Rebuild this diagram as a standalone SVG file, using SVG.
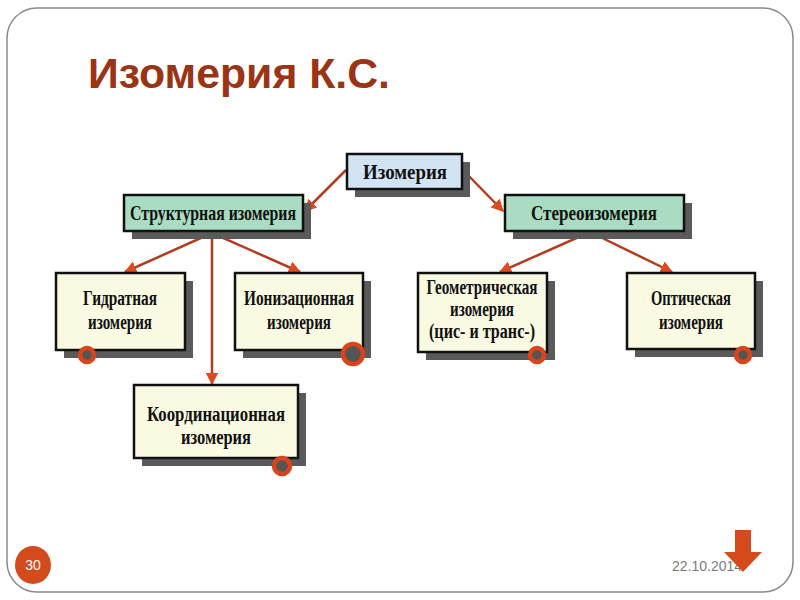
<svg xmlns="http://www.w3.org/2000/svg" width="800" height="600" viewBox="0 0 800 600">
<style>
.frame{fill:#fff;stroke:#8a8a8a;stroke-width:1.5}
.title{font-family:"Liberation Sans",Arial,sans-serif;font-weight:bold;font-size:43px;fill:#9a3414}
.shadow{fill:#5a5a5a}
.box{stroke:#111;stroke-width:2.5}
.blue{fill:#d2e3f4}
.green{fill:#a9dcc2}
.cream{fill:#fafae2}
.lbl{font-family:"Liberation Serif","Times New Roman",serif;font-weight:bold;font-size:20px;fill:#111;text-anchor:middle}
.ring{fill:#555;stroke:#d9441c;stroke-width:4.5}
.conn{stroke:#b23c20;stroke-width:2.5;fill:none}
.foot{font-family:"Liberation Sans",Arial,sans-serif;font-size:14px}
</style>
<defs>
<marker id="ah" viewBox="0 0 10 10" refX="9" refY="5" markerWidth="5" markerHeight="5" orient="auto">
<path d="M0,0 L10,5 L0,10 z" fill="#dc4a1e"/>
</marker>
</defs>
<rect class="frame" x="7" y="8" width="786" height="584" rx="30" ry="30"/>
<text class="title" x="88" y="88" textLength="302" lengthAdjust="spacingAndGlyphs">Изомерия К.С.</text>

<g id="connectors">
<line class="conn" x1="346" y1="170" x2="305" y2="211" marker-end="url(#ah)"/>
<line class="conn" x1="463" y1="170" x2="503" y2="211" marker-end="url(#ah)"/>
<line class="conn" x1="212" y1="233" x2="125" y2="272" marker-end="url(#ah)"/>
<line class="conn" x1="212" y1="233" x2="300" y2="272" marker-end="url(#ah)"/>
<line class="conn" x1="212" y1="233" x2="212" y2="384" marker-end="url(#ah)"/>
<line class="conn" x1="590" y1="232" x2="500" y2="272" marker-end="url(#ah)"/>
<line class="conn" x1="590" y1="232" x2="672" y2="272" marker-end="url(#ah)"/>
</g>

<g id="n-izomeriya">
<rect class="shadow" x="355" y="162" width="115" height="35"/>
<rect class="box blue" x="347" y="154" width="115" height="35"/>
<text class="lbl" x="405" y="179" font-size="23" textLength="84" lengthAdjust="spacingAndGlyphs">Изомерия</text>
</g>

<g id="n-struct">
<rect class="shadow" x="132" y="203" width="179" height="36"/>
<rect class="box green" x="124" y="195" width="179" height="36"/>
<text class="lbl" x="213" y="220" textLength="166" lengthAdjust="spacingAndGlyphs">Структурная изомерия</text>
</g>

<g id="n-stereo">
<rect class="shadow" x="513" y="203" width="179" height="36"/>
<rect class="box green" x="505" y="195" width="179" height="36"/>
<text class="lbl" x="594" y="220" textLength="126" lengthAdjust="spacingAndGlyphs">Стереоизомерия</text>
</g>

<g id="n-gidrat">
<rect class="shadow" x="64" y="281" width="129" height="77"/>
<rect class="box cream" x="56" y="273" width="129" height="77"/>
<text class="lbl" x="120" y="305" textLength="74" lengthAdjust="spacingAndGlyphs">Гидратная</text>
<text class="lbl" x="120" y="329" textLength="64" lengthAdjust="spacingAndGlyphs">изомерия</text>
<circle class="ring" cx="87" cy="355" r="7"/>
</g>

<g id="n-ioniz">
<rect class="shadow" x="243" y="281" width="128" height="77"/>
<rect class="box cream" x="235" y="273" width="128" height="77"/>
<text class="lbl" x="299" y="305" textLength="110" lengthAdjust="spacingAndGlyphs">Ионизационная</text>
<text class="lbl" x="299" y="329" textLength="64" lengthAdjust="spacingAndGlyphs">изомерия</text>
<circle class="ring" cx="353" cy="354" r="10"/>
</g>

<g id="n-geom">
<rect class="shadow" x="426" y="281" width="129" height="79"/>
<rect class="box cream" x="418" y="273" width="129" height="79"/>
<text class="lbl" x="482" y="294" textLength="111" lengthAdjust="spacingAndGlyphs">Геометрическая</text>
<text class="lbl" x="482" y="316" textLength="64" lengthAdjust="spacingAndGlyphs">изомерия</text>
<text class="lbl" x="482" y="338" textLength="106" lengthAdjust="spacingAndGlyphs">(цис- и транс-)</text>
<circle class="ring" cx="537" cy="355" r="7"/>
</g>

<g id="n-optich">
<rect class="shadow" x="635" y="281" width="128" height="76"/>
<rect class="box cream" x="627" y="273" width="128" height="76"/>
<text class="lbl" x="691" y="305" textLength="80" lengthAdjust="spacingAndGlyphs">Оптическая</text>
<text class="lbl" x="691" y="329" textLength="64" lengthAdjust="spacingAndGlyphs">изомерия</text>
<circle class="ring" cx="743" cy="355" r="7"/>
</g>

<g id="n-koord">
<rect class="shadow" x="142" y="393" width="164" height="73"/>
<rect class="box cream" x="134" y="385" width="164" height="73"/>
<text class="lbl" x="216" y="421" textLength="138" lengthAdjust="spacingAndGlyphs">Координационная</text>
<text class="lbl" x="216" y="444" textLength="70" lengthAdjust="spacingAndGlyphs">изомерия</text>
<circle class="ring" cx="282" cy="466" r="8"/>
</g>

<g id="footer">
<ellipse cx="33" cy="565" rx="18" ry="19" fill="#d34a1c"/>
<text class="foot" x="33" y="570" fill="#fff" text-anchor="middle">30</text>
<text class="foot" x="672" y="571" fill="#7a7a7a">22.10.2014</text>
<path d="M735,530 H751 V552 H762 L743,572 L724,552 H735 Z" fill="#d44a1a"/>
</g>
</svg>
